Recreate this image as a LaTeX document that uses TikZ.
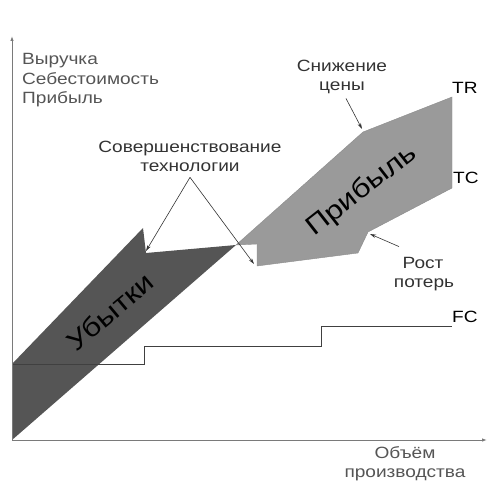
\documentclass[tikz,border=0pt]{standalone}
\usepackage{fontspec}
\setmainfont{Liberation Sans}[FakeStretch=1.17]
\usetikzlibrary{arrows.meta}
\definecolor{axisgray}{HTML}{7A7A7A}
\definecolor{labgray}{HTML}{555555}
\definecolor{notegray}{HTML}{333333}
\definecolor{lossfill}{HTML}{555555}
\definecolor{profitfill}{HTML}{9A9A9A}
\begin{document}
\begin{tikzpicture}[x=1pt,y=-1pt,
  axisline/.style={draw=axisgray,line width=0.9pt,-{Latex[length=5pt,width=3.5pt]}},
  lbl/.style={font=\fontsize{16.3}{19}\selectfont,inner sep=0pt,anchor=base},
  axlbl/.style={lbl,text=labgray,anchor=base west},
  note/.style={lbl,text=notegray},
  curvelbl/.style={lbl,text=black,anchor=base west},
  bigword/.style={font=\fontsize{26.5}{30}\selectfont,inner sep=0pt,text=black},
  pointer/.style={draw=notegray,line width=0.6pt,-{Stealth[length=6pt,width=3.5pt]}},
  fcline/.style={draw=black!75,line width=0.8pt}]
\useasboundingbox (0,0) rectangle (487,481);

% regions
\fill[lossfill] (12,440) -- (12,364) -- (143,228) -- (146,253) -- (236,245) -- cycle;
\fill[profitfill,draw=black!45,line width=0.4pt] (236,245) -- (363,132) -- (452,97) -- (452,188) -- (368,232) -- (358,253) -- (257,266) -- (257,244) -- cycle;

% fixed costs
\draw[fcline] (12,364) -- (144,364) -- (144,346) -- (321,346) -- (321,326) -- (452,326);

% axes
\coordinate (o) at (12,440);
\coordinate (ytop) at (12,36);
\coordinate (xend) at (487,440);
\draw[axisline] (o) -- (ytop);
\draw[axisline] (o) -- (xend);

% axis labels
\node[axlbl] (y1) at (22,65) {Выручка};
\node[axlbl] (y2) at (22,85) {Себестоимость};
\node[axlbl] (y3) at (22,104) {Прибыль};
\node[lbl,text=labgray] (x1) at (405,458) {Объём};
\node[lbl,text=labgray] (x2) at (405,477) {производства};

% curve labels
\node[curvelbl] (tr) at (452,94) {TR};
\node[curvelbl] (tc) at (453,184) {TC};
\node[curvelbl] (fc) at (452,322) {FC};

% notes
\node[note] (t1) at (190,153) {Совершенствование};
\node[note] (t2) at (190,172) {технологии};
\node[note] (p1) at (342,72) {Снижение};
\node[note] (p2) at (342,91) {цены};
\node[note] (r1) at (423,268) {Рост};
\node[note] (r2) at (424,287) {потерь};

\coordinate (tech1) at (146,251);
\coordinate (tech2) at (254,264);
\coordinate (price) at (362,129);
\coordinate (loss) at (370,234);
\draw[pointer] ([yshift=-5pt]t2.south) -- (tech1);
\draw[pointer] ([yshift=-5pt]t2.south) -- (tech2);
\draw[pointer] ([xshift=4pt,yshift=-4pt]p2.south) -- (price);
\draw[pointer] ([xshift=-24pt,yshift=10pt]r1.north) -- (loss);

% big words
\node[bigword,rotate=40] (lw) at (110,312) {Убытки};
\node[bigword,rotate=38] (pw) at (362,191) {Прибыль};
\end{tikzpicture}
\end{document}
